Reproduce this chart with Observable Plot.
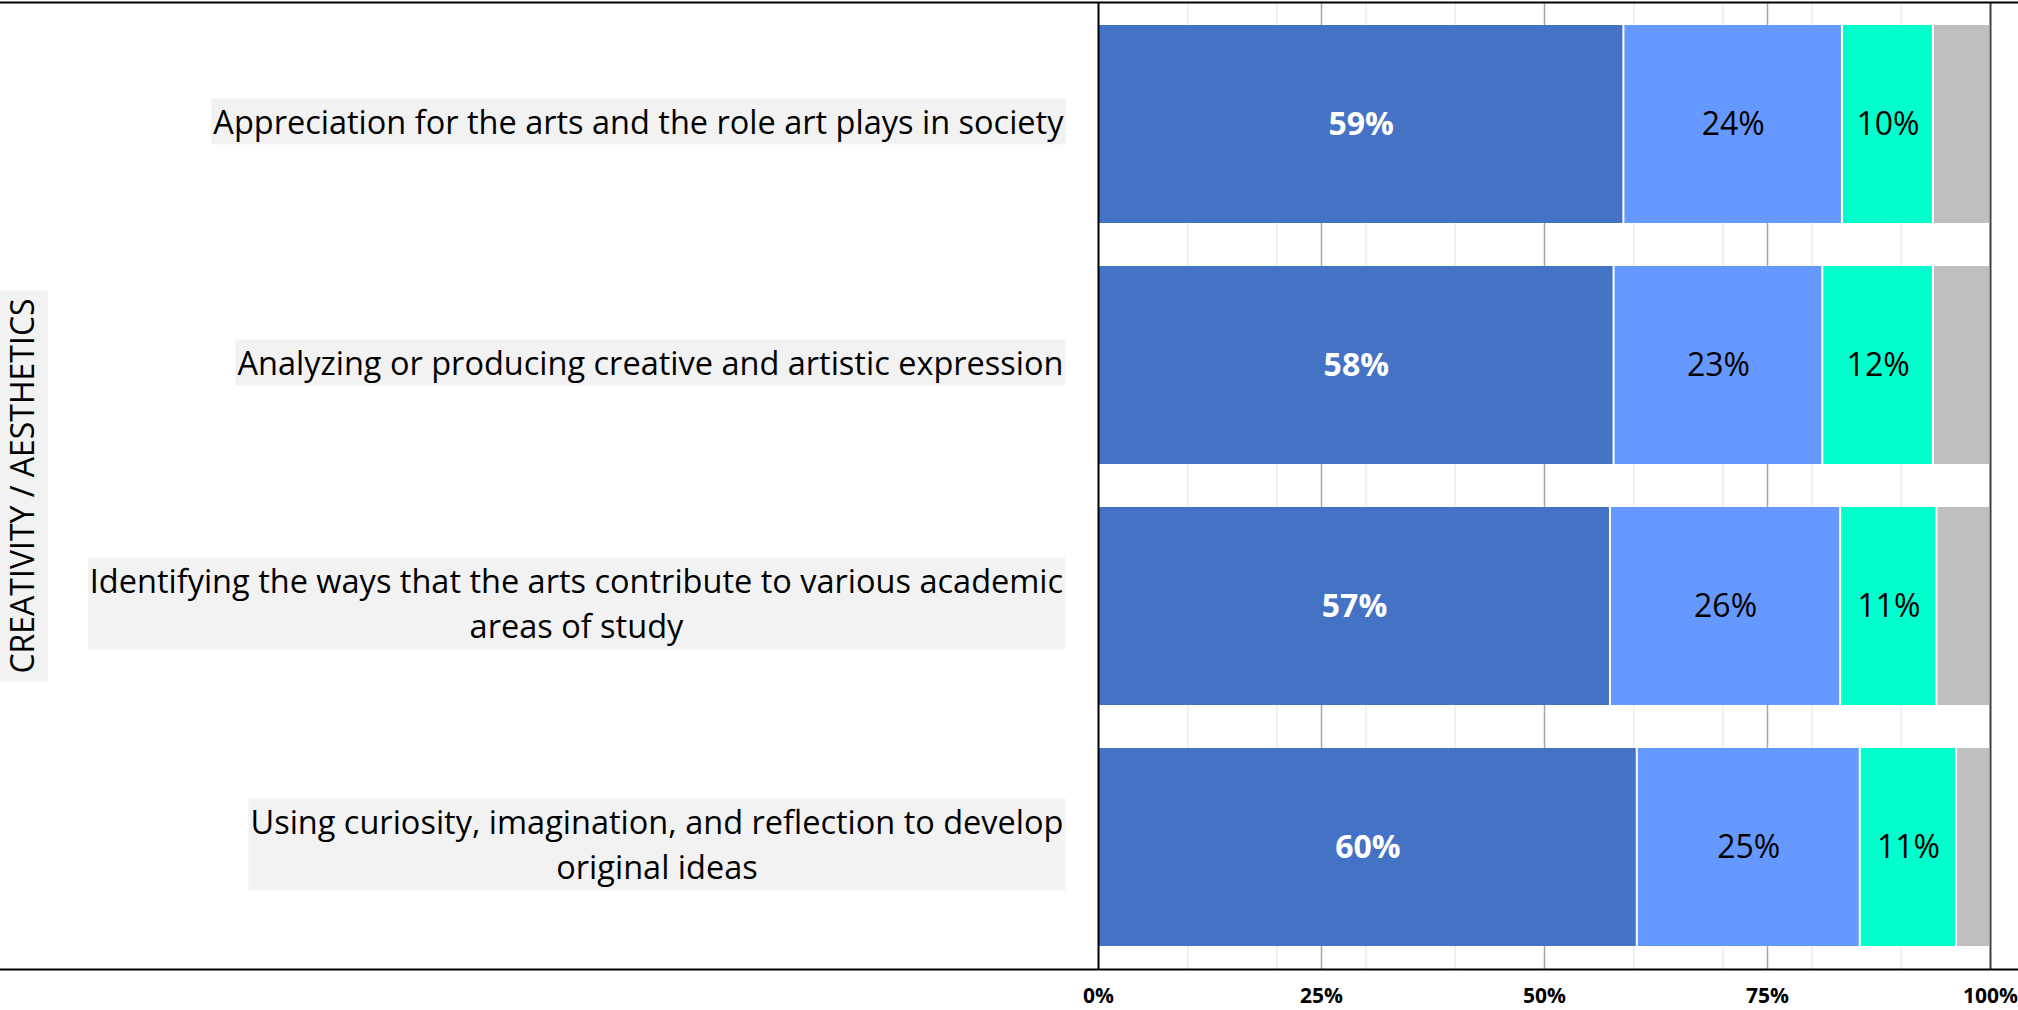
<!DOCTYPE html>
<html><head><meta charset="utf-8">
<script src="https://cdn.jsdelivr.net/npm/d3@7"></script>
<script src="https://cdn.jsdelivr.net/npm/@observablehq/plot@0.6"></script>
<style>body{margin:0;background:#fff;overflow:hidden}</style>
</head><body><div id="chart"></div>
<script>
const items = [
  "Appreciation for the arts and the role art plays in society",
  "Analyzing or producing creative and artistic expression",
  "Identifying the ways that the arts contribute to various academic\nareas of study",
  "Using curiosity, imagination, and reflection to develop\noriginal ideas"
];
const groupLabel = "CREATIVITY / AESTHETICS";
const series = ["s1", "s2", "s3", "s4"];
const colors = ["#4472C4", "#6699FF", "#00FFCC", "#BFBFBF"];
const values1 = [58.9, 57.8, 57.4, 60.4];
const values2 = [24.5, 23.4, 25.8, 25.0];
const values3 = [10.2, 12.4, 10.8, 10.8];
const values4 = [6.4, 6.4, 6.0, 3.8];
const labels1 = ["59%", "58%", "57%", "60%"];
const labels2 = ["24%", "23%", "26%", "25%"];
const labels3 = ["10%", "12%", "11%", "11%"];
const labels4 = ["", "", "", ""];
const xTicks = [0, 25, 50, 75, 100];
const minorGrid = [10, 20, 30, 40, 60, 70, 80, 90];
const majorGrid = [25, 50, 75];

const allValues = [values1, values2, values3, values4];
const allLabels = [labels1, labels2, labels3, labels4];
const data = [];
items.forEach((it, i) => {
  series.forEach((s, j) => data.push({item: it, series: s, value: allValues[j][i], label: allLabels[j][i]}));
});

const W = 2018, H = 1010, ML = 1098, MR = 28, MT = 2, MB = 41;
const font = "Open Sans";

const chart = Plot.plot({
  width: W, height: H,
  marginLeft: ML, marginRight: MR, marginTop: MT, marginBottom: MB,
  style: {fontFamily: font, background: "white", color: "black"},
  x: {domain: [0, 100]},
  y: {domain: items, axis: null, paddingInner: 0.18, paddingOuter: 0.09},
  color: {domain: series, range: colors},
  marks: [
    Plot.ruleX(minorGrid, {stroke: "#ececec", strokeWidth: 1.5}),
    Plot.ruleX(majorGrid, {stroke: "#a6a6a6", strokeWidth: 1.5}),
    Plot.ruleX([100], {stroke: "#404040", strokeWidth: 2}),
    Plot.frame({stroke: "black", strokeWidth: 2, insetLeft: -(ML + 4), insetRight: -(MR + 4)}),
    Plot.barX(data, {x: "value", y: "item", fill: "series", z: "series", insetLeft: 1, insetRight: 1}),
    Plot.ruleX([0], {stroke: "black", strokeWidth: 2}),
    Plot.text(data, Plot.stackX({x: "value", y: "item", z: "series",
      text: d => d.series === series[0] ? d.label : "",
      fill: "white", fontWeight: "bold", fontSize: 32})),
    Plot.text(data, Plot.stackX({x: "value", y: "item", z: "series",
      text: d => d.series !== series[0] ? d.label : "",
      fill: "black", fontSize: 32})),
    Plot.text(items, {y: d => d, text: d => d, frameAnchor: "left", textAnchor: "end",
      dx: -35, dy: -5, fontSize: 32.5, lineHeight: 1.385, fill: "black", className: "ylab"}),
    Plot.text([groupLabel], {text: d => d, frameAnchor: "left", textAnchor: "middle", dx: -(ML - 23), rotate: -90,
      fontSize: 32, fill: "black", className: "glab"}),
    Plot.axisX({ticks: xTicks, tickFormat: d => d + "%", tickSize: 0, tickPadding: 19,
      fontSize: 21, fontWeight: "bold", label: null})
  ]
});
document.getElementById("chart").appendChild(chart);

// light grey background boxes behind category labels; centre the lines of multi-line labels
const svg = chart.tagName.toLowerCase() === "svg" ? chart : chart.querySelector("svg");
const sr = svg.getBoundingClientRect();
function addBoxes(cls, padX, padY, lineBox) {
  const g = svg.querySelector("g." + cls);
  if (!g) return;
  const boxG = document.createElementNS("http://www.w3.org/2000/svg", "g");
  g.parentNode.insertBefore(boxG, g);
  g.querySelectorAll("text").forEach(t => {
    const tspans = t.querySelectorAll("tspan");
    if (lineBox && tspans.length > 1) {
      const w = t.getBBox().width;
      t.setAttribute("text-anchor", "middle");
      const tr = t.getAttribute("transform") || "";
      t.setAttribute("transform", tr + ` translate(${-w / 2},0)`);
    }
    const r = t.getBoundingClientRect();
    const rect = document.createElementNS("http://www.w3.org/2000/svg", "rect");
    let x = r.left - sr.left - padX, y = r.top - sr.top - padY, w = r.width + 2 * padX, h = r.height + 2 * padY;
    if (lineBox) {
      const n = Math.max(1, tspans.length);
      const cy = y + h / 2;
      h = n * lineBox; y = cy - h / 2;
    }
    rect.setAttribute("x", x); rect.setAttribute("y", y);
    rect.setAttribute("width", w); rect.setAttribute("height", h);
    rect.setAttribute("fill", "#f2f2f2");
    boxG.appendChild(rect);
  });
}
addBoxes("ylab", 2, 0, 46);
addBoxes("glab", 5, 8, 0);
</script>
</body></html>
